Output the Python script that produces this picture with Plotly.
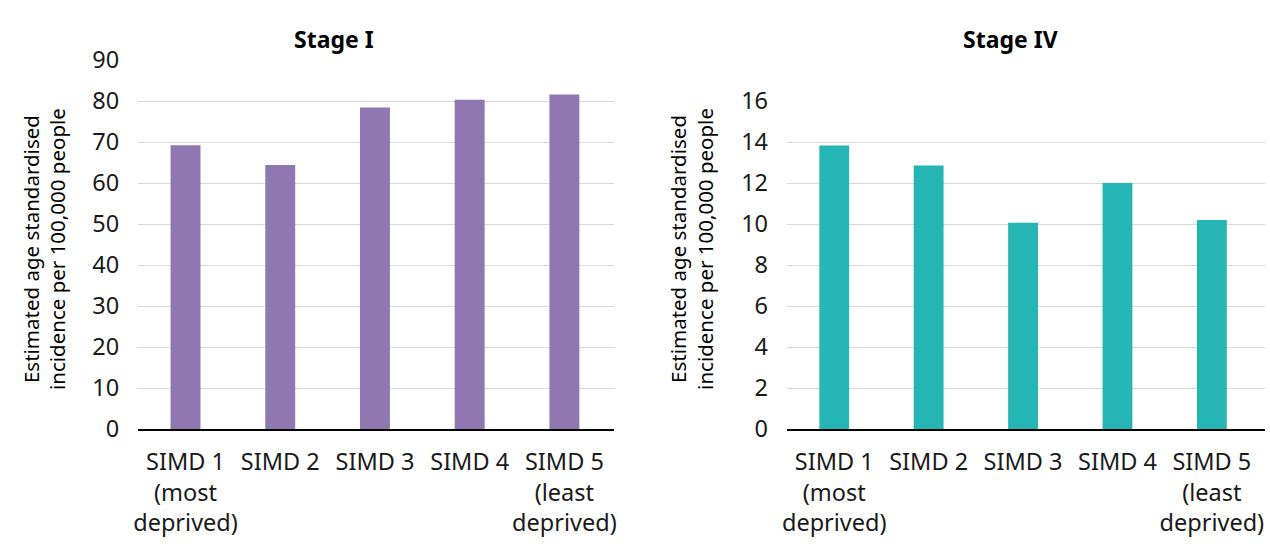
import plotly.graph_objects as go

categories = ["SIMD 1", "SIMD 2", "SIMD 3", "SIMD 4", "SIMD 5"]
tick_labels = ["SIMD 1<br>(most<br>deprived)", "SIMD 2", "SIMD 3", "SIMD 4", "SIMD 5<br>(least<br>deprived)"]
stage1_values = [69.2, 64.4, 78.4, 80.3, 81.6]
stage4_values = [13.83, 12.86, 10.06, 12.0, 10.2]
titles = ["Stage I", "Stage IV"]
y_title = "Estimated age standardised<br>incidence per 100,000 people"

W, H = 1270, 553
FONT = "Noto Sans"
PURPLE = "#9077b1"
TEAL = "#26b5b5"
TXT = "#1a1a1a"

fig = go.Figure()
fig.add_trace(go.Bar(x=categories, y=stage1_values, marker=dict(color=PURPLE, line=dict(width=0)),
                     xaxis="x", yaxis="y", showlegend=False, hoverinfo="x+y"))
fig.add_trace(go.Bar(x=categories, y=stage4_values, marker=dict(color=TEAL, line=dict(width=0)),
                     xaxis="x2", yaxis="y2", showlegend=False, hoverinfo="x+y"))

def px(x):
    return x / W

def py(y):
    return (H - y) / H

common_x = dict(tickmode="array", tickvals=categories, ticktext=tick_labels,
                showgrid=False, showline=True, linecolor="black", linewidth=2,
                ticks="", ticklabelstandoff=11,
                tickfont=dict(family=FONT, size=23.5, color=TXT),
                zeroline=False, fixedrange=True)
common_y = dict(showgrid=True, gridcolor="#d9d9d9", gridwidth=1, zeroline=False,
                showline=False, ticks="", ticklabelstandoff=18,
                tickfont=dict(family=FONT, size=23.5, color=TXT),
                fixedrange=True)

fig.update_layout(
    width=W, height=H,
    margin=dict(l=0, r=0, t=0, b=0),
    paper_bgcolor="white", plot_bgcolor="white",
    bargap=0.684,
    xaxis=dict(domain=[px(134), px(612.5)], range=[-0.5, 4.52], anchor="y", **common_x),
    yaxis=dict(domain=[py(437.3), py(45.7)], range=[0, 90], dtick=10, anchor="x", **common_y),
    xaxis2=dict(domain=[px(787), px(1268)], range=[-0.5, 4.563], anchor="y2", **common_x),
    yaxis2=dict(domain=[py(437.3), py(89.3)], range=[0, 16], dtick=2, anchor="x2", **common_y),
    font=dict(family=FONT, color=TXT),
)

annotations = [
    dict(text="<b>%s</b>" % titles[0], x=px(331.5), y=py(23), xref="paper", yref="paper",
         showarrow=False, font=dict(family=FONT, size=23, color="black"), xanchor="center", yanchor="middle"),
    dict(text="<b>%s</b>" % titles[1], x=px(1012), y=py(23), xref="paper", yref="paper",
         showarrow=False, font=dict(family=FONT, size=23, color="black"), xanchor="center", yanchor="middle"),
    dict(text=y_title, x=px(39), y=py(246.5), xref="paper", yref="paper", textangle=-90,
         showarrow=False, font=dict(family=FONT, size=20.5, color="black"), xanchor="center", yanchor="middle"),
    dict(text=y_title, x=px(691), y=py(246.5), xref="paper", yref="paper", textangle=-90,
         showarrow=False, font=dict(family=FONT, size=20.5, color="black"), xanchor="center", yanchor="middle"),
]
fig.update_layout(annotations=annotations)

fig.write_html("out.html")
